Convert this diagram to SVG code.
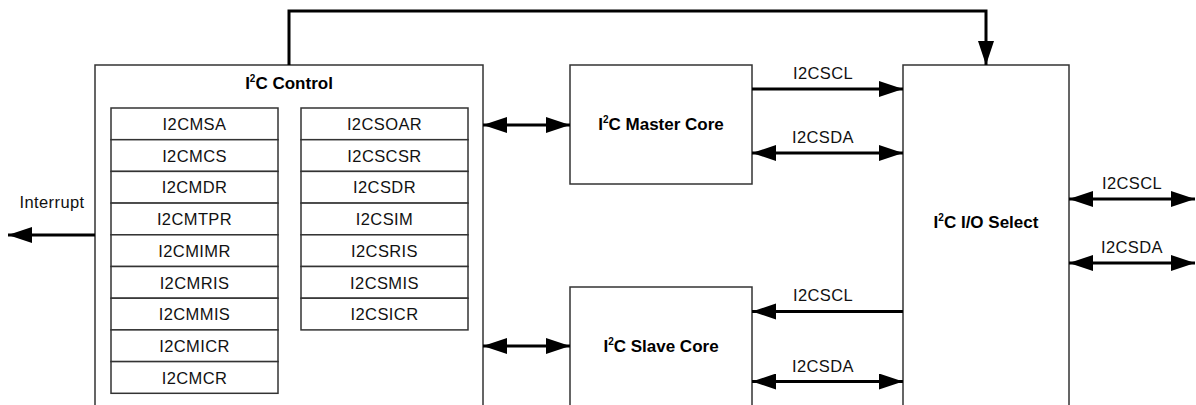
<svg xmlns="http://www.w3.org/2000/svg" width="1196" height="405" viewBox="0 0 1196 405">
<style>
.box{fill:#fff;stroke:#333;stroke-width:1.5}
.reg{fill:#fff;stroke:#333;stroke-width:1.5}
.t{font-family:"Liberation Sans",Arial,sans-serif;font-size:16.5px;letter-spacing:0.4px;fill:#111;text-anchor:middle}
.b{font-family:"Liberation Sans",Arial,sans-serif;font-size:17px;font-weight:bold;fill:#000;text-anchor:middle}
.sup{font-size:10px}
.w{fill:none;stroke:#000;stroke-width:3}
</style>
<defs>
<marker id="ae" markerUnits="userSpaceOnUse" markerWidth="26" markerHeight="18" refX="24" refY="8" orient="auto">
<path d="M0,0 L24,8 L0,16 Z" fill="#000"/>
</marker>
<marker id="as" markerUnits="userSpaceOnUse" markerWidth="26" markerHeight="18" refX="0" refY="8" orient="auto">
<path d="M24,0 L0,8 L24,16 Z" fill="#000"/>
</marker>
</defs>

<g id="control">
<rect class="box" x="95" y="65" width="388" height="345"/>
<text class="b" x="289" y="89">I<tspan class="sup" dy="-7">2</tspan><tspan dy="7">C Control</tspan></text>
<g id="master-regs">
<rect class="reg" x="111" y="108" width="167" height="31.7"/>
<rect class="reg" x="111" y="139.7" width="167" height="31.7"/>
<rect class="reg" x="111" y="171.4" width="167" height="31.7"/>
<rect class="reg" x="111" y="203.1" width="167" height="31.7"/>
<rect class="reg" x="111" y="234.8" width="167" height="31.7"/>
<rect class="reg" x="111" y="266.5" width="167" height="31.7"/>
<rect class="reg" x="111" y="298.2" width="167" height="31.7"/>
<rect class="reg" x="111" y="329.9" width="167" height="31.7"/>
<rect class="reg" x="111" y="361.6" width="167" height="31.7"/>
<text class="t" x="194.5" y="130">I2CMSA</text>
<text class="t" x="194.5" y="161.7">I2CMCS</text>
<text class="t" x="194.5" y="193.4">I2CMDR</text>
<text class="t" x="194.5" y="225.1">I2CMTPR</text>
<text class="t" x="194.5" y="256.8">I2CMIMR</text>
<text class="t" x="194.5" y="288.5">I2CMRIS</text>
<text class="t" x="194.5" y="320.2">I2CMMIS</text>
<text class="t" x="194.5" y="351.9">I2CMICR</text>
<text class="t" x="194.5" y="383.6">I2CMCR</text>
</g>
<g id="slave-regs">
<rect class="reg" x="301" y="108" width="167" height="31.7"/>
<rect class="reg" x="301" y="139.7" width="167" height="31.7"/>
<rect class="reg" x="301" y="171.4" width="167" height="31.7"/>
<rect class="reg" x="301" y="203.1" width="167" height="31.7"/>
<rect class="reg" x="301" y="234.8" width="167" height="31.7"/>
<rect class="reg" x="301" y="266.5" width="167" height="31.7"/>
<rect class="reg" x="301" y="298.2" width="167" height="31.7"/>
<text class="t" x="384.5" y="130">I2CSOAR</text>
<text class="t" x="384.5" y="161.7">I2CSCSR</text>
<text class="t" x="384.5" y="193.4">I2CSDR</text>
<text class="t" x="384.5" y="225.1">I2CSIM</text>
<text class="t" x="384.5" y="256.8">I2CSRIS</text>
<text class="t" x="384.5" y="288.5">I2CSMIS</text>
<text class="t" x="384.5" y="320.2">I2CSICR</text>
</g>
</g>

<g id="master-core">
<rect class="box" x="570" y="65" width="182" height="119"/>
<text class="b" x="661" y="130">I<tspan class="sup" dy="-7">2</tspan><tspan dy="7">C Master Core</tspan></text>
</g>

<g id="slave-core">
<rect class="box" x="570" y="287" width="182" height="130"/>
<text class="b" x="661" y="352">I<tspan class="sup" dy="-7">2</tspan><tspan dy="7">C Slave Core</tspan></text>
</g>

<g id="io-select">
<rect class="box" x="903" y="65" width="166" height="350"/>
<text class="b" x="986" y="228">I<tspan class="sup" dy="-7">2</tspan><tspan dy="7">C I/O Select</tspan></text>
</g>

<g id="connectors">
<path class="w" d="M289,65 V11 H986 V65" marker-end="url(#ae)"/>
<path class="w" d="M95,235 H8" marker-end="url(#ae)"/>
<path class="w" d="M483,125 H570" marker-start="url(#as)" marker-end="url(#ae)"/>
<path class="w" d="M483,346 H570" marker-start="url(#as)" marker-end="url(#ae)"/>
<path class="w" d="M752,89 H903" marker-end="url(#ae)"/>
<path class="w" d="M752,153 H903" marker-start="url(#as)" marker-end="url(#ae)"/>
<path class="w" d="M903,311.5 H752" marker-end="url(#ae)"/>
<path class="w" d="M752,381.5 H903" marker-start="url(#as)" marker-end="url(#ae)"/>
<path class="w" d="M1069,199 H1195" marker-start="url(#as)" marker-end="url(#ae)"/>
<path class="w" d="M1069,263 H1195" marker-start="url(#as)" marker-end="url(#ae)"/>
<text class="t" x="52" y="208">Interrupt</text>
<text class="t" x="823" y="79">I2CSCL</text>
<text class="t" x="823" y="143">I2CSDA</text>
<text class="t" x="823" y="301">I2CSCL</text>
<text class="t" x="823" y="372">I2CSDA</text>
<text class="t" x="1132" y="189">I2CSCL</text>
<text class="t" x="1132" y="253">I2CSDA</text>
</g>
</svg>
